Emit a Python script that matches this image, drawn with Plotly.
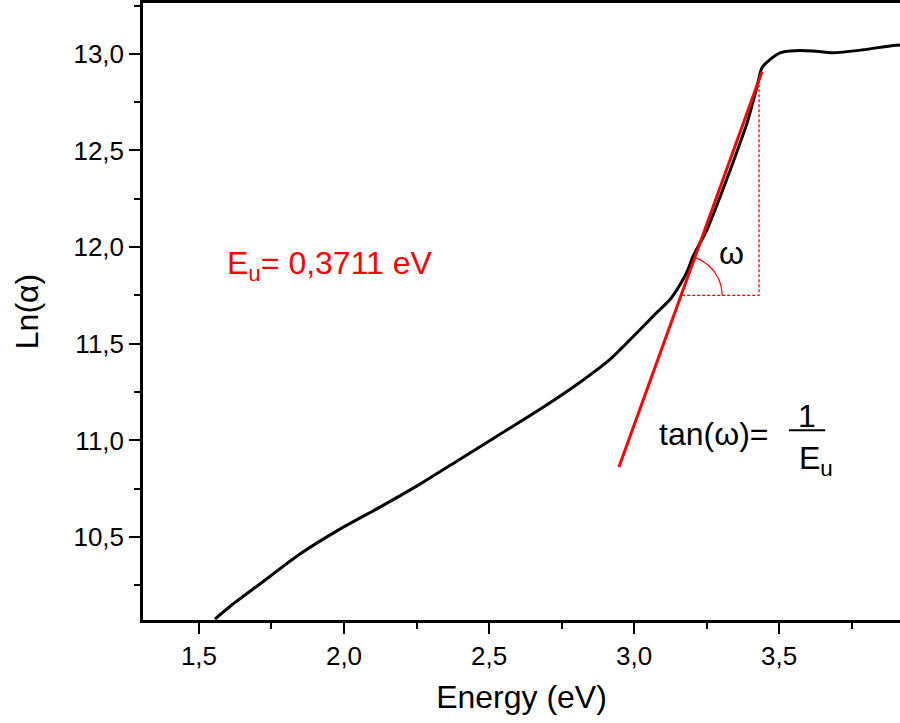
import numpy as np
import plotly.graph_objects as go

# Curve data: Energy (eV) vs Ln(alpha)
energy = [1.555, 1.610, 1.710, 1.848, 1.986, 2.124, 2.262, 2.400, 2.538, 2.676,
          2.814, 2.917, 3.021, 3.072, 3.124, 3.159, 3.186, 3.203, 3.252, 3.297,
          3.341, 3.390, 3.424, 3.441, 3.476, 3.503, 3.538, 3.617, 3.686, 3.790,
          3.883, 3.917]
ln_alpha = [10.076, 10.145, 10.257, 10.412, 10.541, 10.655, 10.774, 10.903, 11.032, 11.161,
            11.301, 11.419, 11.574, 11.652, 11.729, 11.807, 11.884, 11.951, 12.091, 12.261,
            12.437, 12.644, 12.830, 12.928, 12.979, 13.005, 13.015, 13.015, 13.005, 13.021,
            13.041, 13.046]

# Tangent (Urbach fit) line
fit_x = [2.948, 3.441]
fit_y = [10.862, 12.907]

# Triangle construction
tri_x = [3.166, 3.431, 3.431]
tri_y = [11.75, 11.75, 12.84]

x_range = [1.307, 3.917]
y_range = [10.071, 13.263]
x_ticks = [1.5, 2.0, 2.5, 3.0, 3.5]
x_ticktext = ["1,5", "2,0", "2,5", "3,0", "3,5"]
y_ticks = [10.5, 11.0, 11.5, 12.0, 12.5, 13.0]
y_ticktext = ["10,5", "11,0", "11,5", "12,0", "12,5", "13,0"]

W, H = 900, 723
ML, MR, MT, MB = 143, 0, 3, 103
px_per_x = (W - ML - MR) / (x_range[1] - x_range[0])
px_per_y = (H - MT - MB) / (y_range[1] - y_range[0])

fig = go.Figure()
fig.add_trace(go.Scatter(x=energy, y=ln_alpha, mode="lines",
                         line=dict(color="black", width=3, shape="spline", smoothing=0.6),
                         hoverinfo="skip"))
fig.add_trace(go.Scatter(x=fit_x, y=fit_y, mode="lines",
                         line=dict(color="#ff0000", width=3), hoverinfo="skip"))
fig.add_trace(go.Scatter(x=tri_x, y=tri_y, mode="lines",
                         line=dict(color="#ff0000", width=1.3, dash="3px,2px"),
                         hoverinfo="skip"))

# Angle arc (radius in pixels)
cx, cy = tri_x[0], tri_y[0]
r = 40
ang_line = np.arctan2((fit_y[1] - fit_y[0]) * px_per_y, (fit_x[1] - fit_x[0]) * px_per_x)
th = np.linspace(0, ang_line, 40)
fig.add_trace(go.Scatter(x=cx + r * np.cos(th) / px_per_x, y=cy + r * np.sin(th) / px_per_y,
                         mode="lines", line=dict(color="#ff0000", width=1.2), hoverinfo="skip"))

font_family = "Liberation Sans, Arial, sans-serif"
ann_size = 32

fig.add_annotation(x=1.590, y=11.905, xref="x", yref="y", text="E<sub>u</sub>= 0,3711 eV",
                   showarrow=False, xanchor="left", yanchor="middle",
                   font=dict(family=font_family, size=ann_size, color="#ff0000"))
fig.add_annotation(x=3.337, y=11.97, xref="x", yref="y", text="ω",
                   showarrow=False, xanchor="center", yanchor="middle",
                   font=dict(family=font_family, size=ann_size, color="black"))
fig.add_annotation(x=3.08, y=11.035, xref="x", yref="y", text="tan(ω)=",
                   showarrow=False, xanchor="left", yanchor="middle",
                   font=dict(family=font_family, size=ann_size, color="black"))
fig.add_annotation(x=3.597, y=11.125, xref="x", yref="y", text="1",
                   showarrow=False, xanchor="center", yanchor="middle",
                   font=dict(family=font_family, size=ann_size, color="black"))
fig.add_annotation(x=3.627, y=10.895, xref="x", yref="y", text="E<sub>u</sub>",
                   showarrow=False, xanchor="center", yanchor="middle",
                   font=dict(family=font_family, size=ann_size, color="black"))
fig.add_shape(type="line", xref="x", yref="y", x0=3.534, x1=3.659, y0=11.053, y1=11.053,
              line=dict(color="black", width=2))

fig.update_layout(
    width=W, height=H,
    margin=dict(l=ML, r=MR, t=MT, b=MB),
    paper_bgcolor="white", plot_bgcolor="white",
    showlegend=False,
    font=dict(family=font_family, color="black"),
)
fig.update_xaxes(range=x_range, tickvals=x_ticks, ticktext=x_ticktext,
                 showgrid=False, zeroline=False, showline=True, linecolor="black", linewidth=2.5,
                 mirror=True, ticks="outside", ticklen=11, tickwidth=2, tickcolor="black",
                 tickfont=dict(size=26, family=font_family),
                 minor=dict(ticks="outside", ticklen=6, tickwidth=2, tickcolor="black", dtick=0.25,
                            tick0=1.25),
                 title=dict(text="Energy (eV)", font=dict(size=32, family=font_family), standoff=16))
fig.update_yaxes(range=y_range, tickvals=y_ticks, ticktext=y_ticktext,
                 showgrid=False, zeroline=False, showline=True, linecolor="black", linewidth=2.5,
                 mirror=False, ticks="outside", ticklen=11, tickwidth=2, tickcolor="black",
                 tickfont=dict(size=26, family=font_family),
                 minor=dict(ticks="outside", ticklen=6, tickwidth=2, tickcolor="black", dtick=0.25,
                            tick0=10.25),
                 title=dict(text="Ln(α)", font=dict(size=32, family=font_family), standoff=26))

fig.write_html("out.html")
